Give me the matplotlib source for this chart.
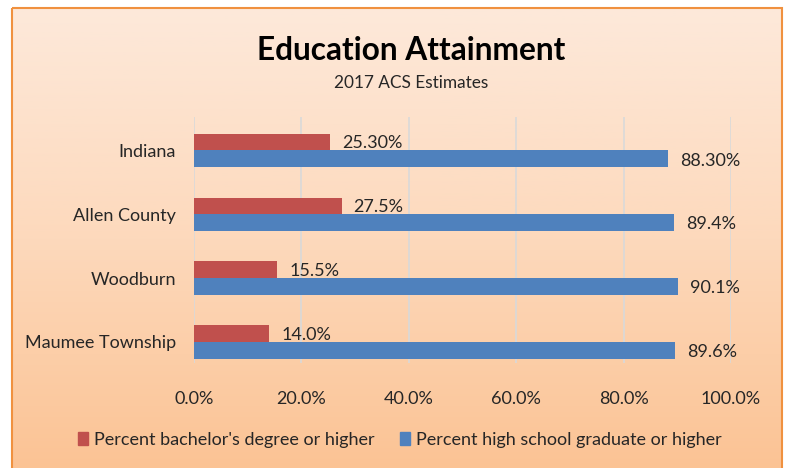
import numpy as np
import matplotlib
matplotlib.use("Agg")
import matplotlib.pyplot as plt
from matplotlib.patches import Patch, Rectangle
from matplotlib.colors import LinearSegmentedColormap

plt.rcParams['font.family'] = ['Lato', 'DejaVu Sans']

categories = ["Indiana", "Allen County", "Woodburn", "Maumee Township"]
bachelor = [25.3, 27.5, 15.5, 14.0]
highschool = [88.3, 89.4, 90.1, 89.6]
bachelor_labels = ["25.30%", "27.5%", "15.5%", "14.0%"]
highschool_labels = ["88.30%", "89.4%", "90.1%", "89.6%"]
xticks = [0, 20, 40, 60, 80, 100]
xtick_labels = ["0.0%", "20.0%", "40.0%", "60.0%", "80.0%", "100.0%"]
series_names = ["Percent bachelor's degree or higher",
                "Percent high school graduate or higher"]

RED = "#C0504D"
BLUE = "#4F81BD"

W, H = 787, 468
fig = plt.figure(figsize=(W / 100, H / 100), dpi=100)
fig.patch.set_facecolor("white")

# background gradient box
bg = fig.add_axes([0, 0, 1, 1])
bg.set_xlim(0, W)
bg.set_ylim(H, 0)
bg.axis("off")
cmap = LinearSegmentedColormap.from_list("g", ["#FDE9DA", "#FDD9BC", "#FBC394"])
grad = np.linspace(0, 1, 256).reshape(-1, 1)
bg.imshow(grad, cmap=cmap, aspect="auto", extent=(12, 782, 470, 8), zorder=0)
bg.add_patch(Rectangle((12, 8), 770, 470, fill=False, edgecolor="#F0913F", lw=1.5, zorder=1))

# main axes
left, right, top, bottom = 194, 731, 117, 363
ax = fig.add_axes([left / W, 1 - bottom / H, (right - left) / W, (bottom - top) / H])
ax.patch.set_alpha(0)

y = np.arange(len(categories))
h = 0.26
ax.barh(y - h / 2, bachelor, height=h, color=RED, zorder=3)
ax.barh(y + h / 2, highschool, height=h, color=BLUE, zorder=3)

for i in range(len(categories)):
    ax.annotate(bachelor_labels[i], (bachelor[i], y[i] - h / 2), xytext=(12, -1),
                textcoords="offset pixels", va="center", ha="left", fontsize=13, color="#262626")
    ax.annotate(highschool_labels[i], (highschool[i], y[i] + h / 2), xytext=(12, -2),
                textcoords="offset pixels", va="center", ha="left", fontsize=13, color="#262626")

ax.set_xlim(0, 100)
ax.set_ylim(3.33, -0.52)
ax.set_xticks(xticks)
ax.set_xticklabels(xtick_labels)
ax.set_yticks(y)
ax.set_yticklabels(categories)
ax.tick_params(axis="both", length=0, labelsize=13, colors="#262626")
ax.tick_params(axis="y", pad=13)
ax.tick_params(axis="x", pad=20)
ax.grid(axis="x", color="#D9D9D9", lw=1.2, zorder=0)
for s in ax.spines.values():
    s.set_visible(False)

fig.text(411 / W, 1 - 51 / H, "Education Attainment", ha="center", va="center",
         fontsize=22.8, fontweight="bold", color="black")
fig.text(411 / W, 1 - 83 / H, "2017 ACS Estimates", ha="center", va="center",
         fontsize=12.4, color="#262626")

handles = [Patch(color=RED), Patch(color=BLUE)]
fig.legend(handles, series_names, loc="center", bbox_to_anchor=(400 / W, 1 - 440 / H),
           ncol=2, frameon=False, fontsize=13, handlelength=0.55, handleheight=0.75,
           handletextpad=0.35, columnspacing=1.4, labelcolor="#262626")

fig.savefig("out.png", dpi=100)
